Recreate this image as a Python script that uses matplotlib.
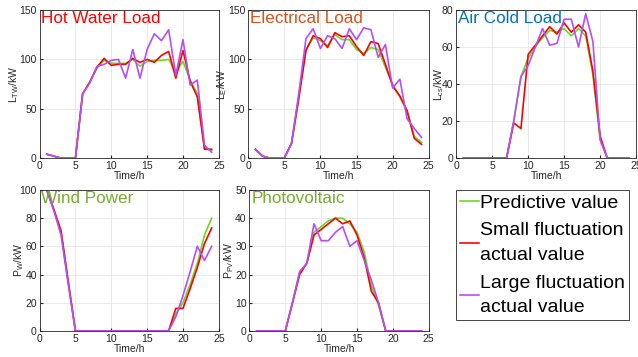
import matplotlib
matplotlib.use("Agg")
import matplotlib.pyplot as plt
import numpy as np

plt.rcParams['font.family'] = ['Liberation Sans', 'DejaVu Sans']
plt.rcParams['mathtext.fontset'] = 'custom'
plt.rcParams['mathtext.rm'] = 'Liberation Sans'
plt.rcParams['mathtext.it'] = 'Liberation Sans'

hours = list(range(1, 25))

hw_pred = [4, 2, 0, 0, 0, 65, 77, 91, 99, 96, 96, 96, 100, 93, 98, 99, 99, 100, 87, 98, 79, 65, 10, 8]
hw_small = [4, 2, 0, 0, 0, 65, 77, 92, 101, 94, 95, 95, 101, 97, 100, 97, 104, 108, 81, 109, 78, 62, 9, 9]
hw_large = [4, 2, 0, 0, 0, 65, 76, 93, 95, 99, 100, 81, 110, 81, 110, 126, 119, 130, 84, 120, 74, 79, 13, 6]

el_pred = [9, 2, 0, 0, 0, 15, 62, 110, 122, 119, 114, 125, 120, 120, 110, 106, 112, 110, 92, 75, 62, 48, 22, 16]
el_small = [9, 2, 0, 0, 0, 15, 60, 109, 124, 121, 112, 127, 123, 124, 113, 104, 118, 116, 95, 73, 63, 48, 20, 14]
el_large = [9, 2, 0, 0, 0, 15, 65, 121, 131, 111, 124, 121, 111, 131, 120, 132, 130, 102, 115, 71, 80, 40, 30, 21]

ac_pred = [0, 0, 0, 0, 0, 0, 0, 20, 44, 54, 60, 65, 69, 68, 70, 66, 70, 66, 45, 10, 0, 0, 0, 0]
ac_small = [0, 0, 0, 0, 0, 0, 0, 19, 16, 56, 61, 66, 71, 67, 73, 68, 72, 68, 47, 12, 0, 0, 0, 0]
ac_large = [0, 0, 0, 0, 0, 0, 0, 20, 44, 50, 60, 70, 61, 62, 75, 75, 60, 78, 63, 10, 0, 0, 0, 0]

wp_pred = [100, 86, 70, 35, 0, 0, 0, 0, 0, 0, 0, 0, 0, 0, 0, 0, 0, 0, 12, 20, 33, 48, 68, 80]
wp_small = [100, 86, 71, 35, 0, 0, 0, 0, 0, 0, 0, 0, 0, 0, 0, 0, 0, 0, 16, 16, 30, 45, 62, 73]
wp_large = [100, 85, 68, 33, 0, 0, 0, 0, 0, 0, 0, 0, 0, 0, 0, 0, 0, 0, 10, 25, 42, 60, 50, 60]

pv_pred = [0, 0, 0, 0, 0, 10, 21, 24, 35, 37, 39, 40, 40, 38, 35, 28, 16, 9, 0, 0, 0, 0, 0, 0]
pv_small = [0, 0, 0, 0, 0, 10, 20, 24, 34, 36, 38, 40, 38, 39, 34, 26, 14, 10, 0, 0, 0, 0, 0, 0]
pv_large = [0, 0, 0, 0, 0, 10, 21, 24, 38, 32, 32, 35, 37, 30, 32, 25, 18, 10, 0, 0, 0, 0, 0, 0]

legend_labels = ['Predictive value', 'Small fluctuation\nactual value', 'Large fluctuation\nactual value']

C_GREEN = '#66dd22'
C_RED = '#ff0000'
C_PURPLE = '#b64dff'

panels = [
    dict(pos=[0.062, 0.557, 0.281, 0.415], data=(hw_pred, hw_small, hw_large), ylim=(0, 150), yt=[0, 50, 100, 150],
         title='Hot Water Load', tcol='#ff0000', ylabel=r'L$_{\mathrm{TW}}$/kW', lp=-1),
    dict(pos=[0.389, 0.557, 0.283, 0.415], data=(el_pred, el_small, el_large), ylim=(0, 150), yt=[0, 50, 100, 150],
         title='Electrical Load', tcol='#d95319', ylabel=r'L$_{\mathrm{E}}$/kW', lp=-1),
    dict(pos=[0.715, 0.557, 0.282, 0.415], data=(ac_pred, ac_small, ac_large), ylim=(0, 80), yt=[0, 20, 40, 60, 80],
         title='Air Cold Load', tcol='#0072bd', ylabel=r'L$_{\mathrm{cs}}$/kW', lp=-3),
    dict(pos=[0.062, 0.073, 0.281, 0.395], data=(wp_pred, wp_small, wp_large), ylim=(0, 100), yt=[0, 20, 40, 60, 80, 100],
         title='Wind Power', tcol='#77ac30', ylabel=r'P$_{\mathrm{W}}$/kW', lp=-5),
    dict(pos=[0.391, 0.073, 0.281, 0.395], data=(pv_pred, pv_small, pv_large), ylim=(0, 50), yt=[0, 10, 20, 30, 40, 50],
         title='Photovoltaic', tcol='#77ac30', ylabel=r'P$_{\mathrm{PV}}$/kW', lp=-1),
]

fig = plt.figure(figsize=(6.38, 3.57), dpi=100)
handles = None
for p in panels:
    ax = fig.add_axes(p['pos'])
    pred, small, large = p['data']
    h1, = ax.plot(hours, pred, color=C_GREEN, lw=1.2)
    h2, = ax.plot(hours, small, color=C_RED, lw=1.2)
    h3, = ax.plot(hours, large, color=C_PURPLE, lw=1.2)
    handles = [h1, h2, h3]
    ax.set_xlim(0, 25)
    ax.set_ylim(*p['ylim'])
    ax.set_xticks([0, 5, 10, 15, 20, 25])
    ax.set_yticks(p['yt'])
    ax.grid(True, color='#e6e6e6', lw=0.6)
    ax.set_axisbelow(True)
    ax.tick_params(direction='in', length=2.5, labelsize=7.5, colors='#262626', pad=2,
                   top=False, right=False)
    for s in ax.spines.values():
        s.set_color('#262626')
        s.set_linewidth(0.6)
    ax.set_xlabel('Time/h', fontsize=7.5, color='#262626', labelpad=0)
    ax.set_ylabel(p['ylabel'], fontsize=7.5, color='#262626', labelpad=p['lp'])
    ax.text(0.01, 0.99, p['title'], transform=ax.transAxes, fontsize=12.3, color=p['tcol'],
            ha='left', va='top')

leg = fig.legend(handles, legend_labels, loc='upper left',
                 bbox_to_anchor=(455.7 / 638, 1 - 190 / 357), fontsize=14,
                 handlelength=1.0, handletextpad=0.05, borderpad=0.2, labelspacing=0.55,
                 fancybox=False, edgecolor='#262626', framealpha=1, borderaxespad=0)
leg.get_frame().set_linewidth(0.6)
for t in leg.get_texts():
    t.set_linespacing(1.6)

fig.savefig('out.png', dpi=100)
